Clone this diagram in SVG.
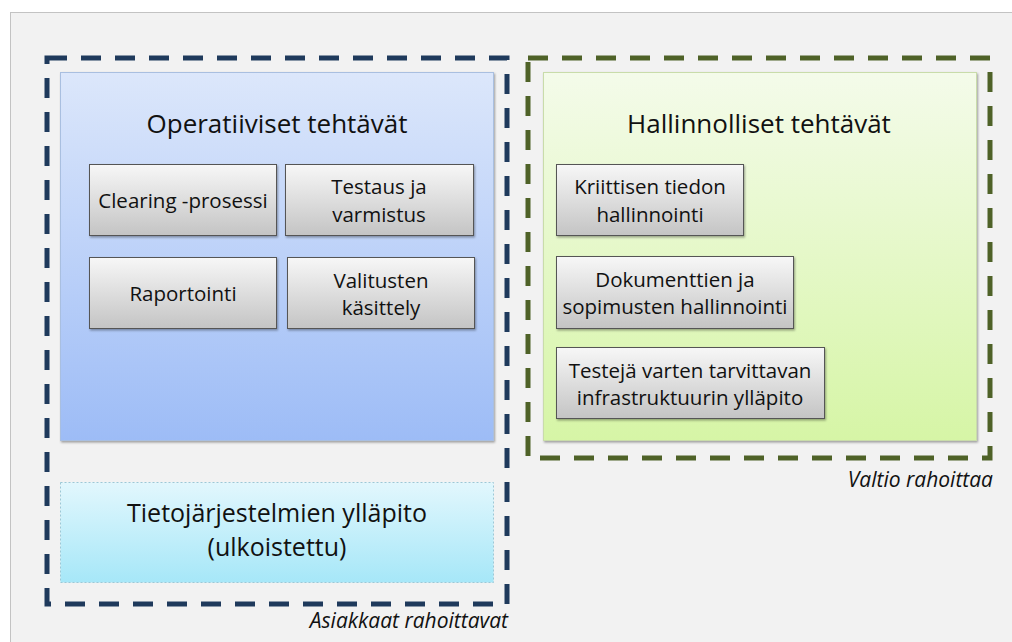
<svg xmlns="http://www.w3.org/2000/svg" width="1012" height="642" viewBox="0 0 1012 642">
<defs>
<linearGradient id="gBlue" x1="0" y1="0" x2="0" y2="1"><stop offset="0" stop-color="#dce7fb"/><stop offset="1" stop-color="#9dbcf6"/></linearGradient>
<linearGradient id="gGreen" x1="0" y1="0" x2="0" y2="1"><stop offset="0" stop-color="#f4fbea"/><stop offset="1" stop-color="#d6f5a6"/></linearGradient>
<linearGradient id="gCyan" x1="0" y1="0" x2="0" y2="1"><stop offset="0" stop-color="#e2f7fd"/><stop offset="1" stop-color="#a6e7f8"/></linearGradient>
<linearGradient id="gGray" x1="0" y1="0" x2="0" y2="1"><stop offset="0" stop-color="#f7f7f7"/><stop offset="1" stop-color="#c4c4c4"/></linearGradient>
<filter id="sh" x="-10%" y="-10%" width="130%" height="130%"><feDropShadow dx="1" dy="1.5" stdDeviation="1" flood-color="#000" flood-opacity="0.35"/></filter>
</defs>
<style>
.t{font-family:"Open Sans",sans-serif;fill:#111;text-anchor:middle}
.big{font-size:26px}
.big2{font-size:25px}
.sm{font-size:20.5px}
.lbl{font-family:"Open Sans",sans-serif;font-style:italic;font-size:21px;fill:#111;text-anchor:end}
.box{fill:url(#gGray);stroke:#555;stroke-width:1;filter:url(#sh)}
</style>
<rect x="0" y="0" width="1012" height="642" fill="#ffffff"/>
<rect x="10.5" y="12.5" width="1010" height="640" fill="#f2f2f2" stroke="#c3c3c3" stroke-width="1"/>

<g id="asiakkaat">
<rect x="47" y="58" width="460" height="546" fill="none" stroke="#1f3a5c" stroke-width="5" stroke-dasharray="20 14"/>
<text class="lbl" x="508" y="628">Asiakkaat rahoittavat</text>
</g>
<g id="valtio">
<rect x="528" y="58" width="462" height="400" fill="none" stroke="#4f6228" stroke-width="5" stroke-dasharray="20 14"/>
<text class="lbl" x="993" y="487">Valtio rahoittaa</text>
</g>

<g id="operatiiviset">
<rect x="60.5" y="72.5" width="433" height="368" fill="url(#gBlue)" stroke="#a9bfe0" stroke-width="1" filter="url(#sh)"/>
<text class="t big" x="277" y="133">Operatiiviset tehtävät</text>
</g>
<g id="clearing"><rect class="box" x="89.5" y="164.5" width="187" height="71"/><text class="t sm" x="183" y="208">Clearing -prosessi</text></g>
<g id="testaus"><rect class="box" x="285.5" y="164.5" width="188" height="71"/><text class="t sm" x="379" y="194">Testaus ja</text><text class="t sm" x="379" y="222">varmistus</text></g>
<g id="raportointi"><rect class="box" x="89.5" y="257.5" width="187" height="71"/><text class="t sm" x="183" y="301">Raportointi</text></g>
<g id="valitusten"><rect class="box" x="287.5" y="257.5" width="187" height="71"/><text class="t sm" x="381" y="288">Valitusten</text><text class="t sm" x="381" y="315">käsittely</text></g>

<g id="hallinnolliset">
<rect x="543.5" y="72.5" width="433" height="368" fill="url(#gGreen)" stroke="#c9dcaa" stroke-width="1" filter="url(#sh)"/>
<text class="t big" x="759" y="133">Hallinnolliset tehtävät</text>
</g>
<g id="kriittisen"><rect class="box" x="556.5" y="164.5" width="187" height="71"/><text class="t sm" x="650" y="194">Kriittisen tiedon</text><text class="t sm" x="650" y="222">hallinnointi</text></g>
<g id="dokumenttien"><rect class="box" x="556.5" y="256.5" width="237" height="72"/><text class="t sm" x="675" y="287">Dokumenttien ja</text><text class="t sm" x="675" y="314">sopimusten hallinnointi</text></g>
<g id="testeja"><rect class="box" x="556.5" y="347.5" width="268" height="71"/><text class="t sm" x="690" y="378">Testejä varten tarvittavan</text><text class="t sm" x="690" y="405">infrastruktuurin ylläpito</text></g>

<g id="tietojarjestelmat">
<rect x="60.5" y="482.5" width="433" height="100" fill="url(#gCyan)" stroke="#9cc8d6" stroke-width="1" stroke-dasharray="2 2"/>
<text class="t big2" x="277" y="522">Tietojärjestelmien ylläpito</text>
<text class="t big2" x="277" y="556">(ulkoistettu)</text>
</g>
<g id="connectors"/>
</svg>
